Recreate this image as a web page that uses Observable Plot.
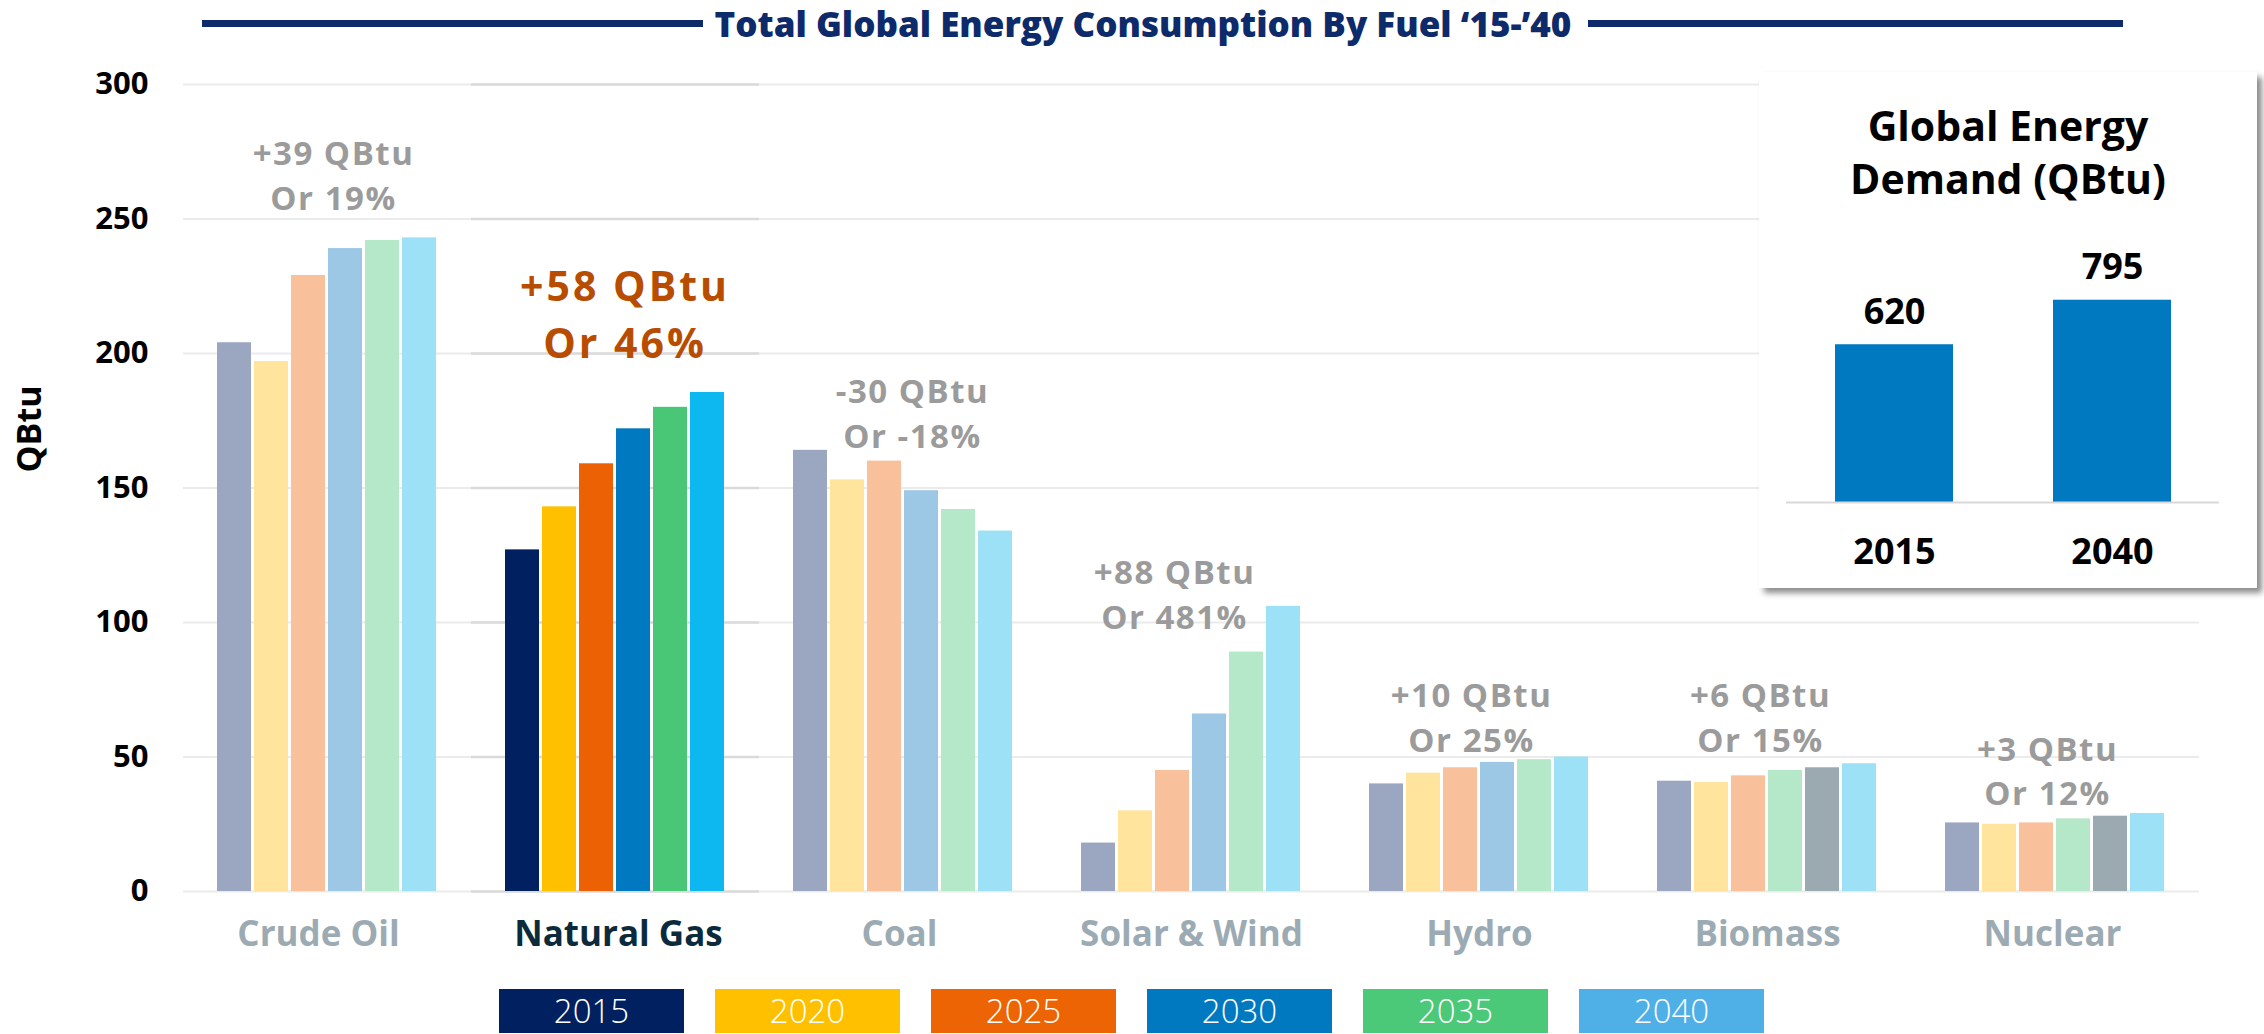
<!DOCTYPE html>
<html>
<head>
<meta charset="utf-8">
<script src="https://cdn.jsdelivr.net/npm/d3@7"></script>
<script src="https://cdn.jsdelivr.net/npm/@observablehq/plot@0.6"></script>
<style>
  html, body { margin: 0; padding: 0; background: #fff; }
  #page { position: relative; width: 2264px; height: 1034px; overflow: hidden; background: #fff; font-family: "Open Sans", sans-serif; }
  #title { position: absolute; top: 0; left: 1143px; transform: translateX(-50%); white-space: nowrap;
           font-size: 35px; line-height: normal; font-weight: 800; color: #0D2A6B; }
  .tline { position: absolute; top: 20px; height: 7px; background: #0D2A6B; }
  #main { position: absolute; top: 50px; left: 0; }
  #ylabel { position: absolute; left: 28px; top: 429px; transform: translate(-50%, -50%) rotate(-90deg);
            font-size: 34px; font-weight: 700; color: #000; white-space: nowrap; }
  #legend { position: absolute; top: 989px; left: 499px; display: flex; gap: 31px; }
  #legend div { width: 185px; height: 44px; color: #fff; font-size: 33px; font-weight: 300; line-height: 44px; text-align: center; }
  #inset { position: absolute; left: 1759px; top: 72px; width: 498px; height: 516px; background: #fff;
           box-shadow: 5px 5px 6px rgba(0,0,0,0.45); }
  #insetTitle { position: absolute; top: 27px; left: 0; width: 100%; text-align: center; font-size: 41px;
                line-height: 53px; font-weight: 700; color: #000; }
  #insetPlot { position: absolute; top: 140px; left: 0; }
</style>
</head>
<body>
<div id="page">
  <div class="tline" style="left:202px;width:501px"></div>
  <div class="tline" style="left:1588px;width:535px"></div>
  <div id="title">Total Global Energy Consumption By Fuel ‘15-’40</div>
  <div id="main"></div>
  <div id="ylabel">QBtu</div>
  <div id="legend"></div>
  <div id="inset">
    <div id="insetTitle">Global Energy<br>Demand (QBtu)</div>
    <div id="insetPlot"></div>
  </div>
</div>
<script>
// ---------- data ----------
const categories = ["Crude Oil", "Natural Gas", "Coal", "Solar & Wind", "Hydro", "Biomass", "Nuclear"];
const years = ["2015", "2020", "2025", "2030", "2035", "2040"];
const v2015 = [204, 127, 164, 18, 40, 41, 25.5];
const v2020 = [197, 143, 153, 30, 44, 40.5, 25];
const v2025 = [229, 159, 160, 45, 46, 43, 25.5];
const v2030 = [239, 172, 149, 66, 48, 45, 27];
const v2035 = [242, 180, 142, 89, 49, 46, 28];
const v2040 = [243, 185.5, 134, 106, 50, 47.5, 29];
const yTicks = [0, 50, 100, 150, 200, 250, 300];
const changeLabels = ["+39 QBtu", "+58 QBtu", "-30 QBtu", "+88 QBtu", "+10 QBtu", "+6 QBtu", "+3 QBtu"];
const pctLabels = ["Or 19%", "Or 46%", "Or -18%", "Or 481%", "Or 25%", "Or 15%", "Or 12%"];
const demandYears = ["2015", "2040"];
const demandValues = [620, 795];

// ---------- styles ----------
const highlight = "Natural Gas";
const fullColors = ["#002060", "#FFC000", "#EB6103", "#0079C1", "#4AC776", "#0DB8F0"];
const fadedColors = ["#9BA6C0", "#FEE49C", "#F8C19C", "#9DC8E5", "#B5E7C9", "#9DE1F7"];
const fadedColorsAlt = ["#9BA6C0", "#FEE49C", "#F8C19C", "#B5E7C9", "#9BAAB1", "#9DE1F7"];
const altCategories = ["Biomass", "Nuclear"];
const legendColors = ["#002060", "#FFC000", "#EC6403", "#0079C1", "#4BC878", "#4FB0E8"];
const annDx = [6, 9.5, 9, -17, -8, -7, -8];
const annDy = [-28, -35, -2, 23, -5, -12, -8];
const labelDx = [-9, 3, -4, 0, 0, 0, -3];

// ---------- build table ----------
const series = [v2015, v2020, v2025, v2030, v2035, v2040];
const rows = [];
categories.forEach((c, i) => {
  const pal = c === highlight ? fullColors : (altCategories.includes(c) ? fadedColorsAlt : fadedColors);
  years.forEach((y, j) => rows.push({category: c, year: y, value: series[j][i], color: pal[j]}));
});
const annRows = categories.map((c, i) => ({
  category: c,
  top: d3.max(series, s => s[i]),
  text: changeLabels[i] + "\n" + pctLabels[i]
}));

const annMarks = annRows.map((a, i) => {
  const hl = a.category === highlight;
  return Plot.text([a], {
    fx: "category", y: "top", text: "text",
    dx: annDx[i], dy: annDy[i], lineAnchor: "bottom",
    fontSize: hl ? 41 : 33, fontWeight: 700, lineHeight: hl ? 1.37 : 1.36,
    fill: hl ? "#B84D02" : "#9B9B9B"
  });
});

const catMarks = categories.map((c, i) => Plot.text([c], {
  fx: d => d, text: d => d, frameAnchor: "bottom", lineAnchor: "bottom", dy: 54, dx: labelDx[i],
  fontSize: 35, fontWeight: 700, fill: c === highlight ? "#0B2B3C" : "#9CABB3"
}));

const main = Plot.plot({
  width: 2264, height: 940,
  marginTop: 34, marginBottom: 99, marginLeft: 181, marginRight: 64,
  fx: {domain: categories, padding: 0, axis: null, label: null},
  x: {domain: years, paddingInner: 0.08, paddingOuter: 0.887, axis: null},
  y: {domain: [0, 300], axis: null},
  color: {type: "identity"},
  style: {fontFamily: "'Open Sans', sans-serif", background: "transparent", overflow: "visible"},
  marks: [
    Plot.ruleY(yTicks, {stroke: "#EBEBEB", strokeWidth: 2}),
    Plot.ruleY(yTicks, {y: d => d, fx: () => highlight, stroke: "#DADADA", strokeWidth: 2.5}),
    Plot.axisY(yTicks, {anchor: "left", tickSize: 0, tickPadding: 35, fontSize: 31, fontWeight: 700, fill: "#000", label: null}),
    Plot.barY(rows, {fx: "category", x: "year", y: "value", fill: "color"}),
    ...catMarks,
    ...annMarks
  ]
});
document.getElementById("main").appendChild(main);
main.querySelectorAll("text").forEach(t => {
  const s = t.textContent;
  if (/QBtu/.test(s)) t.style.letterSpacing = /58/.test(s) ? "3px" : "1.5px";
});

// legend
const legend = document.getElementById("legend");
years.forEach((y, j) => {
  const d = document.createElement("div");
  d.textContent = y;
  d.style.background = legendColors[j];
  legend.appendChild(d);
});

// inset
const demand = demandYears.map((y, i) => ({year: y, value: demandValues[i]}));
const inset = Plot.plot({
  width: 498, height: 376,
  marginTop: 61, marginBottom: 86, marginLeft: 27, marginRight: 38,
  x: {domain: demandYears, paddingInner: 0.46, paddingOuter: 0.22, axis: null},
  y: {domain: [0, 900], axis: null},
  style: {fontFamily: "'Open Sans', sans-serif", background: "transparent", overflow: "visible"},
  marks: [
    Plot.barY(demand, {x: "year", y: "value", fill: "#0079C1"}),
    Plot.ruleY([0], {stroke: "#D9D9D9", strokeWidth: 2}),
    Plot.text(demand, {x: "year", y: "value", text: d => String(d.value), dy: -21, lineAnchor: "bottom", fontSize: 36, fontWeight: 700, fill: "#000"}),
    Plot.axisX({anchor: "bottom", tickSize: 0, tickPadding: 36, fontSize: 36, fontWeight: 700, fill: "#000", label: null})
  ]
});
document.getElementById("insetPlot").appendChild(inset);
</script>
</body>
</html>
